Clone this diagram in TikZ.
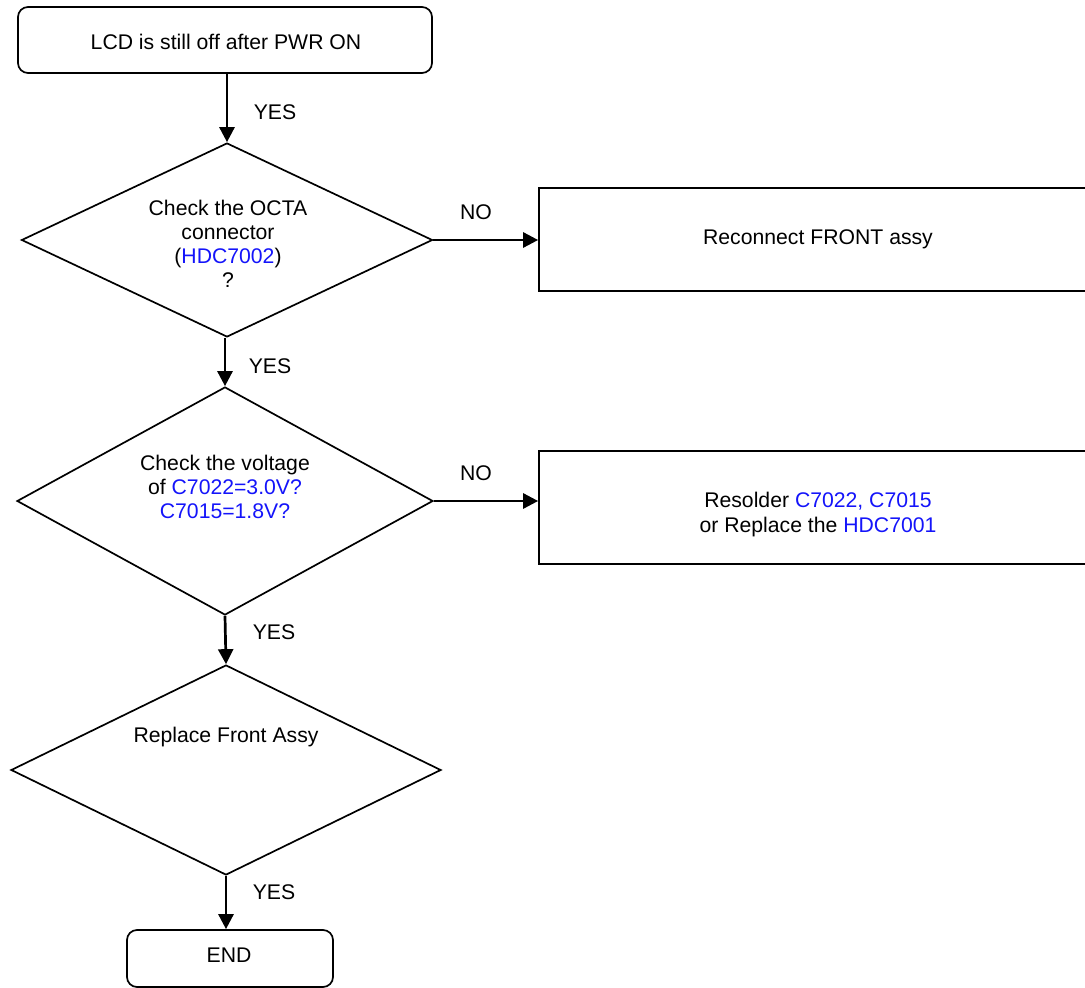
\documentclass[tikz,border=0pt]{standalone}
\usepackage{fontspec}
\setmainfont{Liberation Sans}
\usetikzlibrary{shapes.geometric,arrows.meta}
\definecolor{hl}{RGB}{20,20,250}
\tikzset{
  shapeline/.style={draw=black, line width=1.7pt},
  txt/.style={align=center, inner sep=0pt, font=\fontsize{21.2}{23.8}\selectfont},
  rbox/.style={shapeline, txt, rounded corners=10pt},
  sbox/.style={shapeline, txt},
  dec/.style={shapeline, diamond, inner sep=0pt},
  conn/.style={line width=2.7pt, -{Triangle[length=15pt,width=15pt]}},
  lbl/.style={txt}
}
\begin{document}
\begin{tikzpicture}[x=1pt,y=-1pt]
\useasboundingbox (0,0) rectangle (1085,988);
\clip (0,0) rectangle (1085,988);

\node[rbox, minimum width=414pt, minimum height=66pt] (start) at (225,40) {};
\node[txt] (startt) at (226,42) {LCD is still off after PWR ON};

\node[dec, minimum width=411pt, minimum height=194pt] (d1) at (227,240) {};
\node[txt] (d1t) at (228,244) {Check the OCTA\\connector\\(\textcolor{hl}{HDC7002})\\?};

\node[sbox, minimum width=558pt, minimum height=103pt] (b2) at (818,239.5) {Reconnect FRONT assy};

\node[dec, minimum width=416pt, minimum height=228pt] (d2) at (225,501) {};
\node[txt] (d2t) at (225,487) {Check the voltage\\of \textcolor{hl}{C7022=3.0V?}\\\textcolor{hl}{C7015=1.8V?}};

\node[sbox, minimum width=558pt, minimum height=113pt] (b3) at (818,507.5) {};
\node[txt, text depth=0pt] (b3t) at (818,512) {Resolder \textcolor{hl}{C7022, C7015}\\[1pt]or Replace the \textcolor{hl}{HDC7001}};

\node[dec, minimum width=430pt, minimum height=210pt] (d3) at (226,770) {};
\node[txt] (d3t) at (226,737) {Replace Front Assy};

\node[rbox, minimum width=206pt, minimum height=57pt] (end) at (230,958.5) {};
\node[txt] (endt) at (229,955) {END};

\draw[conn] (d1.north |- start.south) -- (d1.north);
\draw[conn] (d2.north |- d1.south) -- (d2.north);
\draw[conn] (d2.south) -- (d3.north);
\draw[conn] (d3.south) -- (d3.south |- end.north);
\draw[conn] (d1.east) -- (d1.east -| b2.west);
\draw[conn] (d2.east) -- (d2.east -| b3.west);

\node[lbl] (y1) at (275,112) {YES};
\node[lbl] (y2) at (270,366) {YES};
\node[lbl] (y3) at (274,632) {YES};
\node[lbl] (y4) at (274,892) {YES};
\node[lbl] (n1) at (476,212) {NO};
\node[lbl] (n2) at (476,473) {NO};
\end{tikzpicture}
\end{document}
